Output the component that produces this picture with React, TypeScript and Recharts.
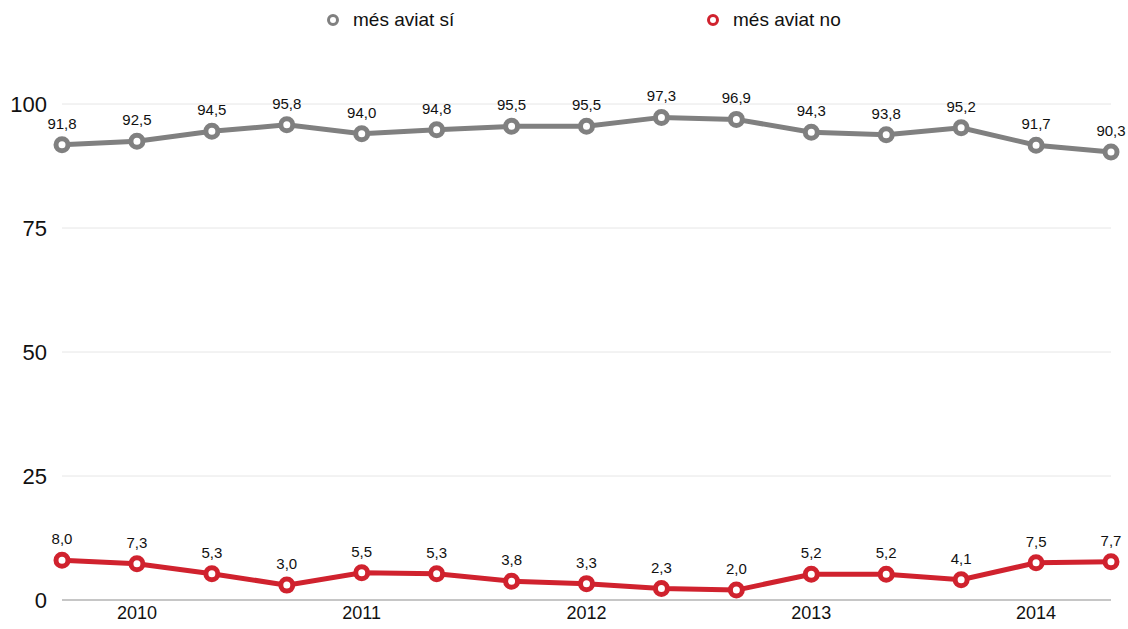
import { LineChart, Line, XAxis, YAxis, CartesianGrid, Legend, LabelList, ReferenceLine } from 'recharts';

const periods = [
  '2010-1', '2010-2', '2010-3',
  '2011-1', '2011-2', '2011-3',
  '2012-1', '2012-2', '2012-3',
  '2013-1', '2013-2', '2013-3',
  '2014-1', '2014-2', '2014-3',
];
const yearTicks = ['2010-2', '2011-2', '2012-2', '2013-2', '2014-2'];
const siValues = [91.8, 92.5, 94.5, 95.8, 94.0, 94.8, 95.5, 95.5, 97.3, 96.9, 94.3, 93.8, 95.2, 91.7, 90.3];
const noValues = [8.0, 7.3, 5.3, 3.0, 5.5, 5.3, 3.8, 3.3, 2.3, 2.0, 5.2, 5.2, 4.1, 7.5, 7.7];
const yTicks = [0, 25, 50, 75, 100];

const GRAY = '#808080';
const RED = '#d0222e';
const FONT = 'Liberation Sans, Arial, sans-serif';

const data = periods.map((p, i) => ({ period: p, si: siValues[i], no: noValues[i] }));

const fmt = (v: number) => v.toFixed(1).replace('.', ',');

function LegendContent() {
  const items = [
    { name: 'més aviat sí', color: GRAY, left: 326 },
    { name: 'més aviat no', color: RED, left: 706 },
  ];
  return (
    <div style={{ position: 'relative', height: 36, width: 1128 }}>
      {items.map((it) => (
        <div
          key={it.name}
          style={{ position: 'absolute', left: it.left, top: 8, display: 'flex', alignItems: 'center', fontFamily: FONT, fontSize: 19, color: '#111', lineHeight: '24px' }}
        >
          <svg width={14} height={14} style={{ marginRight: 13 }}>
            <circle cx={7} cy={7} r={4.5} fill="#fff" stroke={it.color} strokeWidth={3} />
          </svg>
          <span>{it.name}</span>
        </div>
      ))}
    </div>
  );
}

export default function App() {
  return (
    <div style={{ position: 'absolute', left: 0, top: 0, background: '#fff' }}>
      <LineChart width={1128} height={629} data={data} margin={{ top: 68, right: 17, left: 12, bottom: 0 }}>
        <CartesianGrid horizontal vertical={false} stroke="#e6e6e6" />
        <XAxis
          dataKey="period"
          ticks={yearTicks}
          interval={0}
          tickFormatter={(v: string) => v.slice(0, 4)}
          axisLine={false}
          tickLine={false}
          tickSize={0}
          tickMargin={6}
          height={29}
          tick={{ fontSize: 18, fill: '#111', fontFamily: FONT }}
        />
        <YAxis
          domain={[0, 100]}
          ticks={yTicks}
          axisLine={false}
          tickLine={false}
          tickSize={0}
          tickMargin={15}
          width={50}
          tick={{ fontSize: 22, fill: '#111', fontFamily: FONT }}
        />
        <ReferenceLine y={0} stroke="#999" strokeWidth={1} />
        <Legend verticalAlign="top" wrapperStyle={{ top: 0, left: 0 }} content={() => <LegendContent />} />
        <Line
          type="linear"
          dataKey="si"
          name="més aviat sí"
          stroke={GRAY}
          strokeWidth={5}
          dot={{ r: 6, fill: '#fff', stroke: GRAY, strokeWidth: 5 }}
          activeDot={false}
          isAnimationActive={false}
        >
          <LabelList dataKey="si" position="top" offset={16} formatter={(v: number) => fmt(v)} style={{ fontSize: 15, fill: '#111', fontFamily: FONT }} />
        </Line>
        <Line
          type="linear"
          dataKey="no"
          name="més aviat no"
          stroke={RED}
          strokeWidth={5}
          dot={{ r: 6, fill: '#fff', stroke: RED, strokeWidth: 5 }}
          activeDot={false}
          isAnimationActive={false}
        >
          <LabelList dataKey="no" position="top" offset={16} formatter={(v: number) => fmt(v)} style={{ fontSize: 15, fill: '#111', fontFamily: FONT }} />
        </Line>
      </LineChart>
    </div>
  );
}
